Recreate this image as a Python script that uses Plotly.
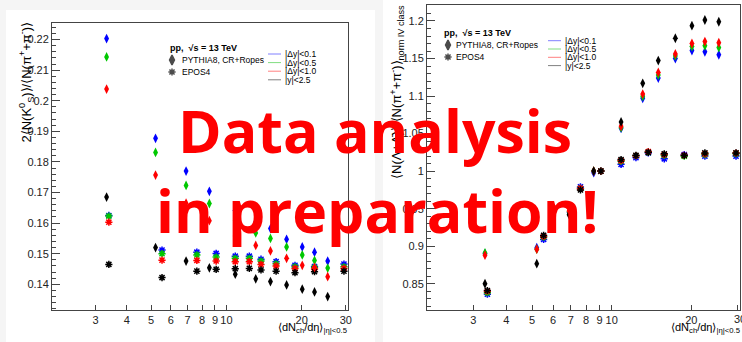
import plotly.graph_objects as go

W, H = 742, 342

# ---------------- data ----------------
x_pythia = [3.32, 5.21, 6.9, 8.55, 10.85, 13.1, 15.0, 17.4, 20.1, 22.5, 25.4]
x_epos = [3.39, 5.53, 7.62, 9.1, 10.85, 12.35, 13.75, 15.8, 18.8, 22.5, 29.5]

# left panel: 2<N(K0S)>/<N(pi+ + pi-)>
k0_pythia_dy01 = [0.2203, 0.1877, 0.1770, 0.1704, 0.1642, 0.1604, 0.1582, 0.1547, 0.1522, 0.1505, 0.1476]
k0_pythia_dy05 = [0.2143, 0.1831, 0.1723, 0.1664, 0.1609, 0.1568, 0.1550, 0.1522, 0.1496, 0.1478, 0.1453]
k0_pythia_dy10 = [0.2038, 0.1757, 0.1665, 0.1608, 0.1558, 0.1527, 0.1509, 0.1485, 0.1462, 0.1455, 0.1425]
k0_pythia_y25 = [0.1685, 0.1520, 0.1476, 0.1454, 0.1433, 0.1418, 0.1409, 0.1398, 0.1384, 0.1375, 0.1360]

k0_epos_dy01 = [0.1625, 0.1512, 0.1505, 0.1501, 0.1492, 0.1492, 0.1482, 0.1474, 0.1462, 0.1458, 0.1466]
k0_epos_dy05 = [0.1623, 0.1500, 0.1496, 0.1489, 0.1485, 0.1485, 0.1476, 0.1467, 0.1457, 0.1455, 0.1457]
k0_epos_dy10 = [0.1603, 0.1479, 0.1478, 0.1476, 0.1474, 0.1474, 0.1465, 0.1460, 0.1452, 0.1450, 0.1452]
k0_epos_y25 = [0.1465, 0.1422, 0.1443, 0.1449, 0.1451, 0.1452, 0.1447, 0.1443, 0.1438, 0.1441, 0.1443]

# right panel: <N(Lambda+antiLambda)>/<N(pi+ + pi-)> normalised
la_pythia_dy01 = [0.890, 0.898, 0.945, 0.998, 1.057, 1.097, 1.124, 1.150, 1.1606, 1.159, 1.155]
la_pythia_dy05 = [0.891, 0.896, 0.946, 1.000, 1.058, 1.0996, 1.128, 1.1535, 1.166, 1.167, 1.1646]
la_pythia_dy10 = [0.888, 0.896, 0.947, 1.000, 1.0597, 1.1027, 1.1314, 1.156, 1.170, 1.1726, 1.171]
la_pythia_y25 = [0.850, 0.8767, 0.942, 1.000, 1.0655, 1.117, 1.1473, 1.177, 1.1938, 1.2013, 1.199]

la_epos_dy01 = [0.836, 0.909, 0.979, 1.000, 1.009, 1.018, 1.0243, 1.0164, 1.022, 1.020, 1.020]
la_epos_dy05 = [0.838, 0.912, 0.977, 1.000, 1.013, 1.0205, 1.025, 1.021, 1.0198, 1.022, 1.023]
la_epos_dy10 = [0.840, 0.913, 0.977, 1.000, 1.014, 1.0205, 1.026, 1.022, 1.021, 1.023, 1.024]
la_epos_y25 = [0.841, 0.9144, 0.975, 1.000, 1.0155, 1.021, 1.025, 1.023, 1.0208, 1.0243, 1.0243]

x_tickvals = [3, 4, 5, 6, 7, 8, 9, 10, 20, 30]
x_ticktext = ["3", "4", "5", "6", "7", "8", "9", "10", "20", "30"]
rap_labels = ["|Δy|&lt;0.1", "|Δy|&lt;0.5", "|Δy|&lt;1.0", "|y|&lt;2.5"]

# ---------------- style ----------------
COLORS = ["#0000ff", "#00c800", "#ff0000", "#000000"]
LEG_COLORS = ["#8080ff", "#80dd80", "#ff8080", "#808080"]
FONT = "Liberation Sans, Arial, sans-serif"


def fx(p):
    return p / W


def fy(p):
    return 1 - p / H


fig = go.Figure()

left_sets_p = [k0_pythia_dy01, k0_pythia_dy05, k0_pythia_dy10, k0_pythia_y25]
left_sets_e = [k0_epos_dy01, k0_epos_dy05, k0_epos_dy10, k0_epos_y25]
right_sets_p = [la_pythia_dy01, la_pythia_dy05, la_pythia_dy10, la_pythia_y25]
right_sets_e = [la_epos_dy01, la_epos_dy05, la_epos_dy10, la_epos_y25]

for sets_p, sets_e, xa, ya, err in [
    (left_sets_p, left_sets_e, "x", "y", 0.0007),
    (right_sets_p, right_sets_e, "x2", "y2", 0.003),
]:
    for vals, col in zip(sets_e, COLORS):
        fig.add_trace(go.Scatter(
            x=x_epos, y=vals, mode="markers", xaxis=xa, yaxis=ya,
            marker=dict(symbol="asterisk-open", size=6, color=col,
                        line=dict(color=col, width=1.5)),
            error_y=dict(type="constant", value=err, color=col, thickness=1, width=0),
            showlegend=False, hoverinfo="skip"))
    for vals, col in zip(sets_p, COLORS):
        fig.add_trace(go.Scatter(
            x=x_pythia, y=vals, mode="markers", xaxis=xa, yaxis=ya,
            marker=dict(symbol="diamond-tall", size=7, color=col, line=dict(width=0)),
            error_y=dict(type="constant", value=err, color=col, thickness=1, width=0),
            showlegend=False, hoverinfo="skip"))

# legend key markers on a full-figure pixel axis
leg_marker_x = [172, 172, 448, 448]
leg_marker_y = [60, 72, 45, 57]
leg_marker_sym = ["diamond-tall", "asterisk-open", "diamond-tall", "asterisk-open"]
fig.add_trace(go.Scatter(
    x=leg_marker_x, y=leg_marker_y, mode="markers", xaxis="x3", yaxis="y3",
    marker=dict(symbol=leg_marker_sym, size=[7, 6, 7, 6], color="black",
                line=dict(color="black", width=1.5)),
    showlegend=False, hoverinfo="skip", cliponaxis=False))

axis_common = dict(showgrid=False, zeroline=False, showline=True, mirror=True,
                   linecolor="#444", linewidth=1, ticks="inside", tickcolor="#444",
                   tickfont=dict(family=FONT, size=11, color="#222"), automargin=False)

fig.update_layout(
    width=W, height=H, margin=dict(l=0, r=0, t=0, b=0),
    paper_bgcolor="#f5f5f5", plot_bgcolor="rgba(0,0,0,0)",
    xaxis=dict(type="log", range=[0.303, 1.486], domain=[fx(52), fx(348)],
               tickvals=x_tickvals, ticktext=x_ticktext, ticklen=5, anchor="y",
               **axis_common),
    yaxis=dict(range=[0.1316, 0.2254], domain=[fy(310), fy(23)], dtick=0.01,
               ticklen=8, anchor="x",
               minor=dict(dtick=0.002, ticks="inside", ticklen=4, tickcolor="#444"),
               **axis_common),
    xaxis2=dict(type="log", range=[0.302, 1.486], domain=[fx(427), fx(740.3)],
                tickvals=x_tickvals, ticktext=x_ticktext, ticklen=5, anchor="y2",
                **axis_common),
    yaxis2=dict(range=[0.815, 1.2213], domain=[fy(310), fy(5)], dtick=0.05,
                ticklen=8, anchor="x2",
                minor=dict(dtick=0.01, ticks="inside", ticklen=4, tickcolor="#444"),
                **axis_common),
    xaxis3=dict(range=[0, W], domain=[0, 1], visible=False, anchor="y3"),
    yaxis3=dict(range=[H, 0], domain=[0, 1], visible=False, anchor="x3"),
)

shapes = [
    dict(type="rect", xref="paper", yref="paper", x0=fx(6), x1=fx(375), y0=0, y1=fy(10),
         fillcolor="white", line=dict(width=0), layer="below"),
    dict(type="rect", xref="paper", yref="paper", x0=fx(383), x1=1, y0=0, y1=1,
         fillcolor="white", line=dict(width=0), layer="below"),
]

annotations = []


def txt(x, y, text, size=9, xanchor="left", yanchor="middle", angle=0, bold=False, color="black", family=FONT):
    annotations.append(dict(
        x=fx(x), y=fy(y), xref="paper", yref="paper", text=text, showarrow=False,
        xanchor=xanchor, yanchor=yanchor, textangle=angle,
        font=dict(family=family, size=size, color=color, weight="bold" if bold else "normal")))


# legends, left panel
txt(168, 48, "pp,  √s = 13 TeV", size=9, bold=True)
txt(180, 60, "PYTHIA8, CR+Ropes", size=8.5)
txt(180, 72, "EPOS4", size=8.5)
for i, (lab, col) in enumerate(zip(rap_labels, LEG_COLORS)):
    yy = 54 + 8.6 * i
    shapes.append(dict(type="line", xref="paper", yref="paper", x0=fx(268), x1=fx(281),
                       y0=fy(yy), y1=fy(yy), line=dict(color=col, width=1)))
    txt(283, yy, lab, size=8.5)

# legends, right panel
txt(442, 33, "pp,  √s = 13 TeV", size=9, bold=True)
txt(454, 45, "PYTHIA8, CR+Ropes", size=8.5)
txt(454, 57, "EPOS4", size=8.5)
for i, (lab, col) in enumerate(zip(rap_labels, LEG_COLORS)):
    yy = 40.7 + 8.3 * i
    shapes.append(dict(type="line", xref="paper", yref="paper", x0=fx(548), x1=fx(561),
                       y0=fy(yy), y1=fy(yy), line=dict(color=col, width=1)))
    txt(563, yy, lab, size=8.5)

# axis titles
txt(26, 20, "2⟨N(K<sup>0</sup><sub>S</sub>)⟩/⟨N(π<sup>+</sup>+π<sup>-</sup>)⟩",
    size=13, xanchor="center", yanchor="top", angle=-90)
txt(397, 3, "⟨N(Λ+Λ̄)⟩/⟨N(π<sup>+</sup>+π<sup>-</sup>)⟩<sub>norm IV class</sub>",
    size=13, xanchor="center", yanchor="top", angle=-90)
txt(349, 328, "⟨dN<sub>ch</sub>/dη⟩<sub>|η|&lt;0.5</sub>", size=11, xanchor="right")
txt(742, 328, "⟨dN<sub>ch</sub>/dη⟩<sub>|η|&lt;0.5</sub>", size=11, xanchor="right")
# right-axis "30" label sits at the figure edge (cut in the original)
txt(739.5, 319, "30", size=11, xanchor="center", color="#222")

# overlay text
txt(375, 129.5, "Data analysis", size=59, xanchor="center", bold=True,
    color="#ff0000", family="Open Sans")
txt(377, 209.5, "in preparation!", size=59, xanchor="center", bold=True,
    color="#ff0000", family="Open Sans")

fig.update_layout(shapes=shapes, annotations=annotations)
fig.write_html("out.html")
